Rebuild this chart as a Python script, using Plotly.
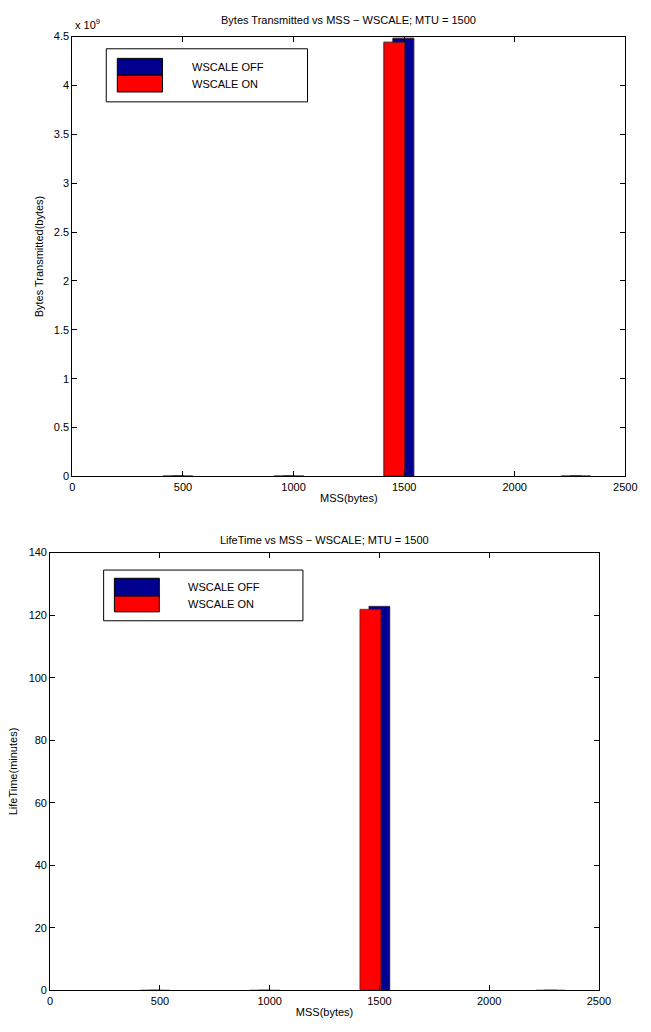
import plotly.graph_objects as go

# ---- data ----
mss_off = [500, 1000, 1500, 2300]
mss_on = [460, 960, 1460, 2260]
bytes_off = [3.0e6, 3.0e6, 4.483e9, 3.0e6]
bytes_on = [3.0e6, 3.0e6, 4.436e9, 3.0e6]
life_off = [0.05, 0.05, 122.8, 0.05]
life_on = [0.05, 0.05, 121.8, 0.05]
series_names = ["WSCALE OFF", "WSCALE ON"]
x_ticks = [0, 500, 1000, 1500, 2000, 2500]
bytes_ticks = [0, 0.5, 1, 1.5, 2, 2.5, 3, 3.5, 4, 4.5]
bytes_tick_labels = ["0", "0.5", "1", "1.5", "2", "2.5", "3", "3.5", "4", "4.5"]
life_ticks = [0, 20, 40, 60, 80, 100, 120, 140]

BLUE = "rgb(0,0,143)"
RED = "rgb(255,0,0)"
FONT = "Liberation Sans, Arial, sans-serif"
W, H = 651, 1032
BAR_W = 95

fig = go.Figure()

def bars(x, y, color, xa, ya, lw):
    fig.add_trace(go.Bar(x=x, y=y, width=BAR_W, marker=dict(color=color, line=dict(color="rgb(60,30,30)", width=lw)),
                         xaxis=xa, yaxis=ya, showlegend=False))

bars(mss_off, bytes_off, BLUE, "x", "y", 1)
bars(mss_on, bytes_on, RED, "x", "y", 1)
bars(mss_off, life_off, BLUE, "x2", "y2", 0.6)
bars(mss_on, life_on, RED, "x2", "y2", 0.6)

def px(v):
    return v / W
def py(v):
    return 1 - v / H

axis_common = dict(showline=True, linecolor="black", linewidth=1, mirror="ticks", ticks="inside",
                   ticklen=5, tickcolor="black", showgrid=False, zeroline=False,
                   tickfont=dict(family=FONT, size=11, color="black"))

fig.update_layout(
    width=W, height=H, margin=dict(l=0, r=0, t=0, b=0),
    paper_bgcolor="white", plot_bgcolor="white", barmode="overlay", bargap=0,
    font=dict(family=FONT, size=11, color="black"),
    xaxis=dict(domain=[px(71), px(637)], range=[0, 2500], tickvals=x_ticks, anchor="y",
               title=dict(text="MSS(bytes)", standoff=2, font=dict(size=11)), **axis_common),
    yaxis=dict(domain=[py(476), py(31)], range=[0, 4.5e9], tickvals=[v * 1e9 for v in bytes_ticks],
               ticktext=bytes_tick_labels, anchor="x",
               title=dict(text="Bytes Transmitted(bytes)", standoff=8, font=dict(size=11)), **axis_common),
    xaxis2=dict(domain=[px(48.3), px(610)], range=[0, 2500], tickvals=x_ticks, anchor="y2",
                title=dict(text="MSS(bytes)", standoff=2, font=dict(size=11)), **axis_common),
    yaxis2=dict(domain=[py(996), py(553)], range=[0, 140], tickvals=life_ticks, anchor="x2",
                title=dict(text="LifeTime(minutes)", standoff=8, font=dict(size=11)), **axis_common),
)

annotations = [
    dict(text="Bytes Transmitted vs MSS \u2212 WSCALE; MTU = 1500", x=px(354), y=py(14), xref="paper", yref="paper",
         showarrow=False, xanchor="center", yanchor="middle", font=dict(size=11)),
    dict(text="LifeTime vs MSS \u2212 WSCALE; MTU = 1500", x=px(329), y=py(540), xref="paper", yref="paper",
         showarrow=False, xanchor="center", yanchor="middle", font=dict(size=11)),
    dict(text="x 10<sup>9</sup>", x=px(72), y=py(18), xref="paper", yref="paper",
         showarrow=False, xanchor="left", yanchor="middle", font=dict(size=11)),
]

shapes = []
# custom legends (MATLAB style)
legends = [
    dict(box=(105.7, 43.3, 311.7, 97), patch=(117, 163.3), rows=(53, 70, 87), text_x=191.7),
    dict(box=(103, 570.7, 307, 622), patch=(114, 160), rows=(579, 597, 613), text_x=187),
]
for lg in legends:
    x0, y0, x1, y1 = lg["box"]
    shapes.append(dict(type="rect", xref="paper", yref="paper", x0=px(x0), x1=px(x1), y0=py(y0), y1=py(y1),
                       line=dict(color="black", width=1), fillcolor="white", layer="above"))
    pa, pb = lg["patch"]
    r0, r1, r2 = lg["rows"]
    for (ya, yb), col, name in zip([(r0, r1), (r1, r2)], [BLUE, RED], series_names):
        shapes.append(dict(type="rect", xref="paper", yref="paper", x0=px(pa), x1=px(pb), y0=py(ya), y1=py(yb),
                           line=dict(color="black", width=1), fillcolor=col, layer="above"))
        annotations.append(dict(text=name, x=px(lg["text_x"]), y=py((ya + yb) / 2), xref="paper", yref="paper",
                                showarrow=False, xanchor="left", yanchor="middle", font=dict(size=11)))

fig.update_layout(shapes=shapes, annotations=annotations)
fig.write_html("out.html")
